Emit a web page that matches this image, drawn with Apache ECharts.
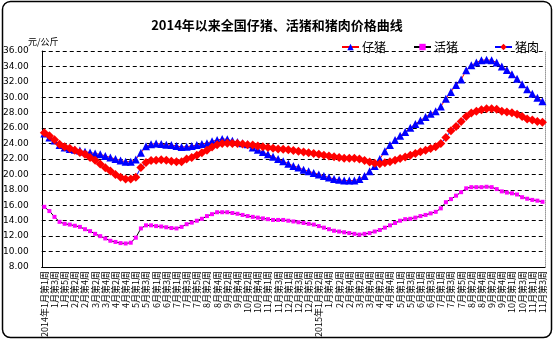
<!DOCTYPE html>
<html>
<head>
<meta charset="utf-8">
<script src="https://cdn.jsdelivr.net/npm/echarts@6/dist/echarts.min.js"></script>
<style>
  html, body { margin: 0; padding: 0; background: #fff; }
  #chart { width: 554px; height: 341px; }
</style>
</head>
<body>
<div id="chart"></div>
<script>
// Weeks in each month (weeks counted by their Wednesday)
const weeksPerMonth2014 = [5, 4, 4, 5, 4, 4, 5, 4, 4, 5, 4, 5];
const weeksPerMonth2015 = [4, 4, 4, 5, 4, 4, 5, 4, 5, 4, 3];

// Y axis ticks (元/公斤)
const yMin = 8, yMax = 36, yStep = 2;

const seriesNames = ['仔猪', '活猪', '猪肉'];

// 仔猪 price, 元/公斤, weekly
const piglet = [
  25.3, 24.8, 24.4, 23.8, 23.5, 23.3, 23.2, 23.1, 22.95, 22.85,
  22.7, 22.6, 22.4, 22.2, 22.0, 21.8, 21.65, 21.65, 21.95, 22.8,
  23.65, 23.9, 24.0, 23.95, 23.85, 23.8, 23.7, 23.55, 23.6, 23.7,
  23.8, 23.95, 24.05, 24.3, 24.45, 24.6, 24.55, 24.35, 24.2, 24.05,
  23.9, 23.5, 23.2, 22.9, 22.6, 22.3, 22.0, 21.7, 21.4, 21.1,
  20.9, 20.6, 20.4, 20.2, 20.0, 19.8, 19.6, 19.4, 19.3, 19.2,
  19.2, 19.2, 19.4, 19.8, 20.4, 21.1, 22.0, 23.0, 23.8, 24.45,
  25.0, 25.5, 26.05, 26.55, 27.0, 27.45, 27.85, 28.2, 28.8, 29.8,
  30.7, 31.6, 32.3, 33.5, 34.15, 34.5, 34.8, 34.85, 34.8, 34.5,
  34.0, 33.55, 33.0, 32.4, 31.7, 31.05, 30.45, 29.95, 29.5
];

// 活猪 price, 元/公斤, weekly
const hog = [
  15.8, 15.25, 14.5, 13.85, 13.6, 13.5, 13.35, 13.2, 12.9, 12.65,
  12.3, 12.0, 11.7, 11.4, 11.25, 11.1, 11.05, 11.15, 11.8, 13.0,
  13.4, 13.4, 13.3, 13.25, 13.15, 13.05, 13.0, 13.2, 13.55, 13.75,
  14.0, 14.25, 14.6, 14.85, 15.1, 15.1, 15.1, 15.0, 14.9, 14.75,
  14.6, 14.5, 14.4, 14.3, 14.2, 14.1, 14.1, 14.1, 14.0, 13.9,
  13.8, 13.7, 13.6, 13.5, 13.3, 13.1, 12.9, 12.7, 12.6, 12.5,
  12.4, 12.3, 12.2, 12.3, 12.4, 12.6, 12.8, 13.1, 13.4, 13.7,
  14.0, 14.2, 14.25, 14.4, 14.6, 14.75, 14.95, 15.15, 15.6, 16.4,
  16.8, 17.25, 17.7, 18.2, 18.35, 18.35, 18.35, 18.4, 18.35, 18.1,
  17.8, 17.65, 17.55, 17.4, 17.05, 16.85, 16.7, 16.6, 16.45
];

// 猪肉 price, 元/公斤, weekly
const pork = [
  25.4, 25.0, 24.5, 23.9, 23.6, 23.4, 23.15, 22.85, 22.6, 22.2,
  21.85, 21.35, 20.85, 20.45, 20.0, 19.65, 19.4, 19.4, 19.65, 20.9,
  21.55, 21.8, 21.85, 21.9, 21.85, 21.7, 21.65, 21.65, 22.0, 22.2,
  22.5, 22.8, 23.15, 23.55, 23.85, 24.0, 24.05, 24.0, 24.0, 23.95,
  23.85, 23.8, 23.7, 23.6, 23.5, 23.4, 23.3, 23.25, 23.2, 23.1,
  23.0, 22.9, 22.8, 22.7, 22.6, 22.5, 22.4, 22.3, 22.2, 22.1,
  22.1, 22.1, 22.0, 21.8, 21.6, 21.45, 21.4, 21.5, 21.65, 21.85,
  22.05, 22.25, 22.5, 22.7, 22.95, 23.15, 23.35, 23.6, 24.0, 24.8,
  25.65, 26.2, 26.85, 27.5, 27.95, 28.2, 28.4, 28.5, 28.5, 28.45,
  28.2, 28.1, 28.0, 27.8, 27.5, 27.2, 27.05, 26.85, 26.75
];

// Category names: "YYYY年M月第N周"
const categories = [];
const catYears = [];
[[2014, weeksPerMonth2014], [2015, weeksPerMonth2015]].forEach(([year, months]) => {
  months.forEach((n, mi) => {
    for (let w = 1; w <= n; w++) {
      categories.push(year + '年' + (mi + 1) + '月第' + w + '周');
      catYears.push(year);
    }
  });
});

const chart = echarts.init(document.getElementById('chart'), null, { renderer: 'canvas' });

const cjk = '"Noto Sans CJK SC", "Noto Sans", sans-serif';

function legendFor(name, left) {
  return {
    data: [name],
    left: left,
    top: 36,
    itemWidth: 17,
    itemHeight: 8,
    itemGap: 4,
    textStyle: { fontFamily: cjk, fontSize: 12, color: '#000', padding: [0, 0, 0, -2] }
  };
}

chart.setOption({
  animation: false,
  backgroundColor: '#fff',
  title: {
    text: '2014年以来全国仔猪、活猪和猪肉价格曲线',
    left: 'center',
    top: 14,
    textStyle: { fontFamily: cjk, fontSize: 13, fontWeight: 'bold', color: '#000' }
  },
  legend: [
    legendFor('仔猪', 336),
    legendFor('活猪', 408),
    legendFor('猪肉', 489)
  ],
  grid: { left: 41, right: 9, top: 51, bottom: 74 },
  xAxis: {
    type: 'category',
    data: categories,
    boundaryGap: true,
    axisLine: { lineStyle: { color: '#000', width: 1 } },
    axisTick: { inside: true, length: 3, lineStyle: { color: '#000' } },
    axisLabel: {
      interval: 1,
      rotate: 90,
      margin: 4,
      fontFamily: cjk,
      fontSize: 9,
      color: '#000',
      formatter: function (value, idx) {
        const showYear = idx === 0 || catYears[idx - 2] !== catYears[idx];
        return showYear ? value : value.replace(/^\d+年/, '');
      }
    },
    splitLine: { show: false }
  },
  yAxis: [
    {
      type: 'value',
      min: yMin,
      max: yMax,
      interval: yStep,
      axisLine: { show: true, lineStyle: { color: '#000', width: 1 } },
      axisTick: { show: false },
      axisLabel: {
        margin: 13,
        fontFamily: '"DejaVu Sans", sans-serif',
        fontSize: 9,
        color: '#000',
        formatter: v => v.toFixed(2)
      },
      splitLine: { show: true, lineStyle: { color: '#000', type: [4, 3], width: 1 } }
    },
    {
      type: 'value',
      position: 'right',
      min: yMin,
      max: yMax,
      interval: yStep,
      axisLine: { show: true, lineStyle: { color: '#999', type: 'dotted', width: 1 } },
      axisTick: { show: false },
      axisLabel: { show: false },
      splitLine: { show: false }
    }
  ],
  series: [
    {
      name: seriesNames[0],
      type: 'line',
      data: piglet,
      symbol: 'triangle',
      symbolSize: 8,
      showAllSymbol: true,
      lineStyle: { color: '#ff0000', width: 1 },
      itemStyle: { color: '#0000ff', borderWidth: 0 }
    },
    {
      name: seriesNames[1],
      type: 'line',
      data: hog,
      symbol: 'rect',
      symbolSize: 4,
      showAllSymbol: true,
      lineStyle: { color: '#000000', width: 1 },
      itemStyle: { color: '#ff00ff', borderWidth: 0 }
    },
    {
      name: seriesNames[2],
      type: 'line',
      data: pork,
      symbol: 'diamond',
      symbolSize: [9, 9],
      showAllSymbol: true,
      lineStyle: { color: '#0000ff', width: 1 },
      itemStyle: { color: '#ff0000', borderWidth: 0 }
    }
  ],
  graphic: [
    {
      type: 'rect',
      shape: { x: 2.5, y: 1.5, width: 549, height: 336, r: 8 },
      style: { fill: 'none', stroke: '#000', lineWidth: 1.5 },
      silent: true,
      z: 100
    },
    {
      type: 'text',
      left: 28,
      top: 37,
      style: { text: '元/公斤', fontFamily: cjk, fontSize: 9, fill: '#000' }
    }
  ]
});
</script>
</body>
</html>
